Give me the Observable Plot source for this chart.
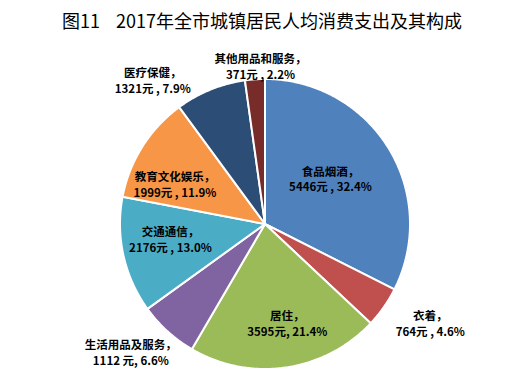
<!DOCTYPE html>
<html><head><meta charset="utf-8">
<script src="https://cdn.jsdelivr.net/npm/d3@7"></script>
<script src="https://cdn.jsdelivr.net/npm/@observablehq/plot@0.6"></script>
<style>
html,body{margin:0;padding:0;background:#fff;}
#title{height:40px;line-height:40px;text-align:center;font-family:"Noto Sans CJK SC","Noto Sans",sans-serif;font-size:18px;color:#000;white-space:pre;width:524px;}
#chart svg{display:block;}
</style></head><body>
<div id="title">图11    2017年全市城镇居民人均消费支出及其构成</div>
<div id="chart"></div>
<script>
const categories = ["食品烟酒", "衣着", "居住", "生活用品及服务", "交通通信", "教育文化娱乐", "医疗保健", "其他用品和服务"];
const amounts = [5446, 764, 3595, 1112, 2176, 1999, 1321, 371];
const shares = [32.4, 4.6, 21.4, 6.6, 13.0, 11.9, 7.9, 2.2];
const valueLabels = ["5446元 , 32.4%", "764元 , 4.6%", "3595元, 21.4%", "1112 元, 6.6%", "2176元 , 13.0%", "1999元 , 11.9%", "1321元 , 7.9%", "371元 , 2.2%"];
const colors = ["#4F81BD", "#C0504D", "#9BBB59", "#8064A2", "#4BACC6", "#F79646", "#2C4D75", "#772C2A"];

// label placement (polar: degrees clockwise from 12 o'clock, radius as fraction of pie radius)
const labelAngle = [55.2, 121.0, 167.3, 226.3, 261.0, 294.1, 322.1, 358.4];
const labelRadius = [0.55, 1.33, 0.70, 1.28, 0.66, 0.68, 1.26, 1.09];

const arcs = d3.pie().sort(null).value(d => d)(amounts);
const pts = [];
arcs.forEach((a, i) => {
  const name = categories[i];
  pts.push({name, x: 0, y: 0});
  const n = Math.max(2, Math.ceil((a.endAngle - a.startAngle) / 0.01));
  for (let k = 0; k <= n; k++) {
    const t = a.startAngle + (a.endAngle - a.startAngle) * k / n;
    pts.push({name, x: Math.sin(t), y: Math.cos(t)});
  }
});

const labels = categories.map((c, i) => {
  const t = labelAngle[i] * Math.PI / 180;
  return {
    x: labelRadius[i] * Math.sin(t),
    y: labelRadius[i] * Math.cos(t),
    text: c + "，\n" + valueLabels[i]
  };
});

const cx = 264.5, cy = 183.5, r = 145;
const chart = Plot.plot({
  width: 530,
  height: 350,
  margin: 0,
  x: {domain: [-1, 1], range: [cx - r, cx + r], axis: null},
  y: {domain: [-1, 1], range: [cy + r, cy - r], axis: null},
  color: {domain: categories, range: colors},
  marks: [
    Plot.line(pts, {x: "x", y: "y", z: "name", fill: "name", stroke: "white", strokeWidth: 2, curve: "linear-closed"}),
    Plot.text(labels, {x: "x", y: "y", text: "text", fontSize: 11.5, fontWeight: "bold", lineHeight: 1.38, fill: "#000", fontFamily: "'Noto Sans CJK SC', sans-serif"})
  ]
});
document.getElementById("chart").appendChild(chart);
</script>
</body></html>
